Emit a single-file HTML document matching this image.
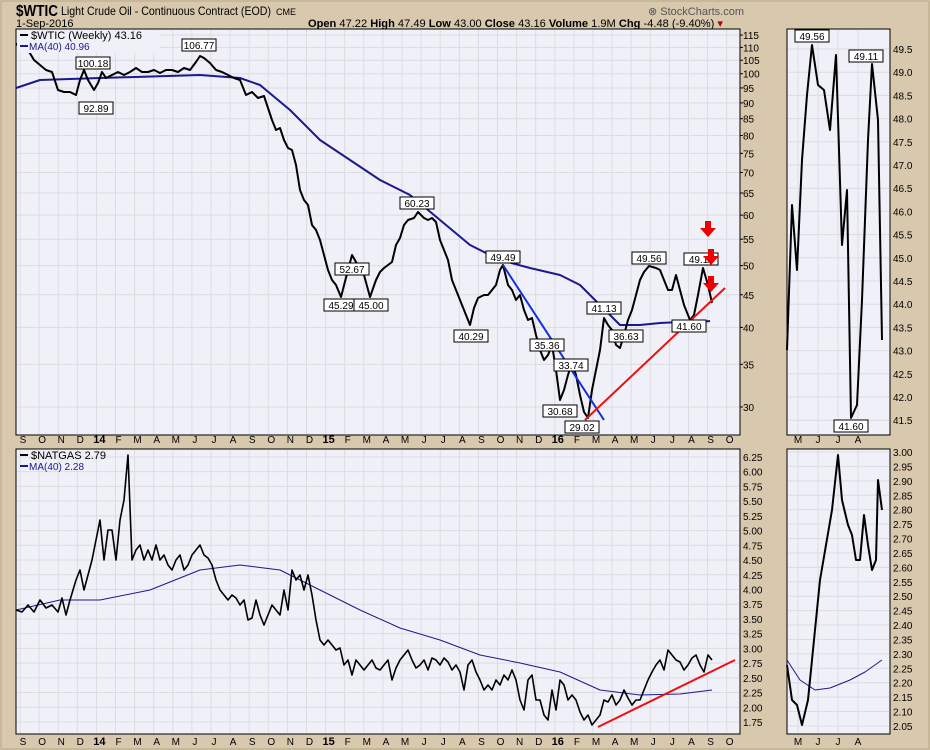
<!DOCTYPE html>
<html><head><meta charset="utf-8"><style>
body{margin:0;background:#d8c8ad;}
svg{display:block;font-family:"Liberation Sans",sans-serif;}
</style></head><body>
<svg id="s" width="930" height="750" xmlns="http://www.w3.org/2000/svg">
<rect width="930" height="750" fill="#d8c8ad"/>
<rect x="1" y="1" width="928" height="748" fill="none" stroke="#b8a888"/>
<text x="16" y="16" font-size="16" font-weight="bold" textLength="42" lengthAdjust="spacingAndGlyphs">$WTIC</text>
<text x="61" y="15" font-size="12" textLength="210" lengthAdjust="spacingAndGlyphs">Light Crude Oil - Continuous Contract (EOD)</text>
<text x="276" y="15" font-size="9">CME</text>
<text x="16" y="27" font-size="11">1-Sep-2016</text>
<text x="648" y="15" font-size="11" fill="#555">⊗ StockCharts.com</text>
<text x="308" y="27" font-size="11" textLength="415" lengthAdjust="spacingAndGlyphs"><tspan font-weight="bold">Open</tspan> 47.22 <tspan font-weight="bold">High</tspan> 47.49 <tspan font-weight="bold">Low</tspan> 43.00 <tspan font-weight="bold">Close</tspan> 43.16 <tspan font-weight="bold">Volume</tspan> 1.9M <tspan font-weight="bold">Chg</tspan> -4.48 (-9.40%) <tspan fill="#a00">▾</tspan></text>
<rect x="16" y="29" width="724" height="406" fill="#eff0f8" stroke="#000"/>
<rect x="787" y="29" width="103" height="406" fill="#eff0f8" stroke="#000"/>
<rect x="16" y="449" width="724" height="285" fill="#eff0f8" stroke="#000"/>
<rect x="787" y="449" width="103" height="285" fill="#eff0f8" stroke="#000"/>
<g id="g"></g>
</svg>
<script>
const S=document.getElementById('s'),G=document.getElementById('g');
const ns='http://www.w3.org/2000/svg';
function el(t,a,txt){const e=document.createElementNS(ns,t);for(const k in a)e.setAttribute(k,a[k]);if(txt!==undefined)e.textContent=txt;G.appendChild(e);return e;}
function pl(pts,c,w){el('polyline',{points:pts.map(p=>p.join(',')).join(' '),fill:'none',stroke:c,'stroke-width':w,'stroke-linejoin':'round'});}
const mon=['S','O','N','D','14','F','M','A','M','J','J','A','S','O','N','D','15','F','M','A','M','J','J','A','S','O','N','D','16','F','M','A','M','J','J','A','S','O'];
mon.forEach((m,i)=>{const x=20+i*19.1;
 el('line',{x1:x,y1:30,x2:x,y2:434,stroke:'#dcdce0'});el('line',{x1:x,y1:450,x2:x,y2:733,stroke:'#dcdce0'});
 const b=/\d/.test(m);
 [443,745].forEach(y=>el('text',{x:x+3,y:y,'font-size':b?11:10,'font-weight':b?'bold':'normal','text-anchor':'middle'},m));});
['M','J','J','A'].forEach((m,i)=>{const x=798+i*20;[443,745].forEach(y=>el('text',{x:x,y:y,'font-size':10,'text-anchor':'middle'},m));
 el('line',{x1:x,y1:30,x2:x,y2:434,stroke:'#dcdce0'});el('line',{x1:x,y1:450,x2:x,y2:733,stroke:'#dcdce0'});});
const ty=p=>407-276.8*Math.log(p/30);
for(let p=30;p<=115;p+=5){const y=ty(p);el('line',{x1:17,y1:y,x2:739,y2:y,stroke:'#dcdce0'});el('text',{x:743,y:y+4,'font-size':10},p);el('line',{x1:740,y1:y,x2:743,y2:y,stroke:'#000'});}
for(let i=0;i<=16;i++){const v=49.5-i*0.5,y=49+i*23.2;el('line',{x1:788,y1:y,x2:889,y2:y,stroke:'#dcdce0'});el('text',{x:893,y:y+4,'font-size':10},v.toFixed(1));}
const by=v=>722-(v-1.75)*58.9;
for(let i=0;i<=18;i++){const v=1.75+i*0.25,y=by(v);el('line',{x1:17,y1:y,x2:739,y2:y,stroke:'#dcdce0'});el('text',{x:743,y:y+4,'font-size':10},v.toFixed(2));}
for(let i=0;i<=19;i++){const v=3-i*0.05,y=452+i*14.42;el('line',{x1:788,y1:y,x2:889,y2:y,stroke:'#dcdce0'});el('text',{x:893,y:y+4,'font-size':10},v.toFixed(2));}
pl([[16,88],[40,80],[100,78],[200,75],[240,78],[260,85],[290,110],[320,140],[350,160],[380,180],[410,195],[440,220],[470,245],[500,260],[530,268],[560,275],[580,285],[600,305],[620,325],[640,325],[660,323],[680,322],[700,322],[710,321]],'#1a1a8c',2);
pl([[16,45],[22,40],[28,50],[34,60],[40,65],[46,70],[52,72],[58,90],[64,92],[70,92],[76,95],[80,80],[84,70],[88,80],[94,90],[98,83],[102,72],[106,78],[112,75],[118,72],[124,75],[130,72],[136,68],[142,72],[148,72],[154,70],[160,73],[166,70],[172,70],[178,72],[184,68],[190,70],[196,62],[200,56],[204,58],[210,63],[216,70],[222,72],[228,75],[234,78],[240,80],[246,95],[252,92],[258,98],[264,96],[268,108],[272,120],[276,130],[280,128],[284,140],[288,148],[292,150],[296,165],[300,190],[304,200],[308,205],[312,225],[316,230],[320,240],[324,255],[328,270],[332,280],[336,285],[341,297],[348,270],[352,255],[356,262],[360,268],[364,275],[370,297],[376,280],[380,272],[384,268],[388,265],[392,262],[396,245],[400,238],[404,225],[408,220],[414,218],[418,212],[424,218],[428,220],[432,218],[436,222],[440,240],[444,250],[448,260],[452,280],[456,290],[460,300],[464,310],[470,325],[474,308],[478,298],[484,295],[488,295],[492,290],[496,285],[500,270],[503,265],[508,285],[512,290],[516,300],[520,295],[524,310],[528,320],[532,318],[536,335],[540,350],[544,360],[548,355],[552,345],[556,370],[560,400],[564,390],[568,375],[572,362],[576,375],[580,395],[584,412],[588,418],[592,390],[596,370],[600,350],[604,318],[608,325],[612,330],[616,345],[620,348],[624,335],[628,320],[632,310],[636,295],[640,280],[644,272],[649,266],[656,268],[660,270],[664,280],[668,290],[672,290],[676,275],[680,290],[684,305],[690,320],[694,315],[698,295],[703,268],[708,285],[712,303]],'#000',2);
pl([[503,265],[604,420]],'#1030e0',2);
pl([[585,420],[725,288]],'#ee1010',2);
function lab(x,y,t){el('rect',{x:x-17,y:y-7,width:34,height:12,fill:'#fff',stroke:'#000','stroke-width':1});el('text',{x:x,y:y+3,'font-size':10,'text-anchor':'middle'},t);}
[[93,64,'100.18'],[96,109,'92.89'],[199,46,'106.77'],[352,270,'52.67'],[341,306,'45.29'],[371,306,'45.00'],[417,204,'60.23'],[471,337,'40.29'],[503,258,'49.49'],[547,346,'35.36'],[571,366,'33.74'],[560,412,'30.68'],[582,428,'29.02'],[604,309,'41.13'],[626,337,'36.63'],[649,259,'49.56'],[689,327,'41.60'],[701,260,'49.11'],[812,37,'49.56'],[866,57,'49.11'],[851,427,'41.60']].forEach(a=>lab(...a));
[[708,230],[711,258],[711,285]].forEach(([x,y])=>el('path',{d:`M${x-3},${y-9}h6v7h5l-8,9l-8,-9h5z`,fill:'#e00'}));
el('rect',{x:17,y:31,width:143,height:22,fill:'#eff0f8'});
el('line',{x1:20,y1:35,x2:28,y2:35,stroke:'#000','stroke-width':2});el('text',{x:31,y:39,'font-size':11},'$WTIC (Weekly) 43.16');
el('line',{x1:20,y1:46,x2:28,y2:46,stroke:'#1a1a8c','stroke-width':2});el('text',{x:29,y:50,'font-size':10,fill:'#1a1a8c'},'MA(40) 40.96');
el('line',{x1:20,y1:455,x2:28,y2:455,stroke:'#000','stroke-width':2});el('text',{x:31,y:459,'font-size':11},'$NATGAS 2.79');
el('line',{x1:20,y1:466,x2:28,y2:466,stroke:'#1a1a8c','stroke-width':2});el('text',{x:29,y:470,'font-size':10,fill:'#1a1a8c'},'MA(40) 2.28');
pl([[787,350],[792,205],[797,270],[802,160],[807,95],[812,45],[818,85],[824,90],[830,130],[836,55],[842,245],[847,190],[851,418],[857,405],[862,300],[868,140],[872,64],[878,120],[882,340]],'#000',2);
pl([[16,610],[60,600],[100,600],[150,590],[200,570],[240,565],[280,570],[320,590],[360,610],[400,628],[440,640],[480,655],[520,663],[560,672],[600,690],[640,695],[680,694],[712,690]],'#1a1a8c',1);
pl([[16,610],[22,612],[28,605],[34,612],[40,600],[46,608],[52,605],[58,612],[62,598],[66,615],[70,600],[76,580],[80,570],[84,590],[88,575],[92,560],[96,540],[100,520],[104,560],[108,530],[112,530],[116,560],[120,520],[124,500],[128,455],[132,560],[136,550],[140,545],[144,560],[148,550],[152,560],[156,545],[160,560],[164,555],[168,565],[172,570],[176,560],[180,555],[184,570],[188,565],[192,555],[196,550],[200,545],[204,555],[208,558],[212,565],[216,580],[220,590],[224,595],[228,600],[232,595],[236,598],[240,605],[244,600],[248,620],[252,618],[256,600],[260,615],[264,625],[268,615],[272,605],[276,610],[280,615],[284,590],[288,610],[292,570],[296,580],[300,575],[304,590],[308,575],[312,595],[316,620],[320,640],[324,645],[328,640],[332,645],[336,650],[340,648],[344,665],[348,660],[352,675],[356,660],[360,665],[364,670],[368,665],[372,660],[376,668],[380,670],[384,665],[388,660],[392,680],[396,668],[400,660],[404,655],[408,650],[412,660],[416,668],[420,665],[424,660],[428,670],[432,658],[436,660],[440,665],[444,658],[448,662],[452,670],[456,665],[460,672],[464,690],[468,665],[472,660],[476,672],[480,680],[484,690],[488,685],[492,690],[496,680],[500,685],[504,675],[508,680],[512,670],[516,680],[520,700],[524,710],[528,680],[532,675],[536,700],[540,700],[544,715],[548,720],[552,690],[556,710],[560,680],[564,685],[568,700],[572,695],[576,700],[580,712],[584,720],[588,715],[592,725],[596,720],[600,715],[604,700],[608,702],[612,695],[616,705],[620,700],[624,690],[628,698],[632,705],[636,700],[640,700],[644,690],[648,680],[652,672],[656,665],[660,660],[664,670],[668,650],[672,655],[676,660],[680,662],[684,670],[688,665],[692,658],[696,655],[700,665],[704,672],[708,655],[712,660]],'#000',1.6);
pl([[598,727],[735,660]],'#ee1010',2);
pl([[787,660],[800,680],[815,690],[830,688],[850,680],[865,672],[882,660]],'#1a1a8c',1);
pl([[787,665],[792,700],[797,705],[802,725],[808,700],[814,640],[820,580],[826,545],[832,510],[838,455],[842,500],[848,525],[852,535],[856,560],[860,560],[864,515],[868,545],[872,570],[876,560],[878,480],[882,510]],'#000',2);
</script>
</body></html>
